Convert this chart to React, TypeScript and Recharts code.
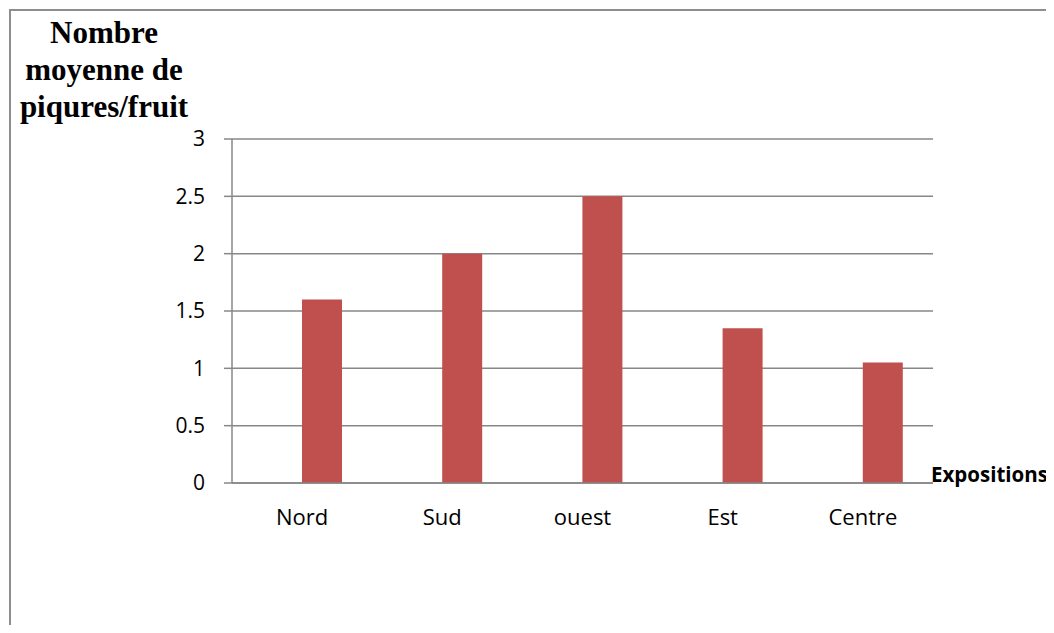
import React from 'react';
import { BarChart, Bar, XAxis, YAxis, CartesianGrid } from 'recharts';

// Mean number of stings per fruit, by orchard exposure
const categories = ['Nord', 'Sud', 'ouest', 'Est', 'Centre'];
const piqures = [1.6, 2.0, 2.5, 1.35, 1.05];
const yTicks = [0, 0.5, 1, 1.5, 2, 2.5, 3];
const titleLines = ['Nombre', 'moyenne de', 'piqures/fruit'];
const xAxisName = 'Expositions';

const data = categories.map((name, i) => ({ name, vide: null, piqures: piqures[i] }));

const GRID = '#878787';
const BAR = '#C0504D';
const SANS = '"Open Sans", "Noto Sans", sans-serif';

export default function App() {
  return (
    <div style={{ position: 'relative', width: 1054, height: 633, margin: -8, background: '#fff', overflow: 'hidden' }}>
      <div
        style={{
          position: 'absolute',
          left: 9,
          top: 9,
          width: 1200,
          height: 800,
          borderLeft: '2px solid #8e8e8e',
          borderTop: '2px solid #8e8e8e',
        }}
      />
      <BarChart
        width={1054}
        height={633}
        data={data}
        margin={{ top: 139, right: 121, bottom: 110, left: 172 }}
        barGap={0}
        barSize={40}
        style={{ position: 'absolute', left: 0, top: 0 }}
      >
        <CartesianGrid vertical={false} stroke={GRID} strokeWidth={1.5} />
        <XAxis
          dataKey="name"
          height={40}
          axisLine={{ stroke: GRID, strokeWidth: 1.5 }}
          tickLine={false}
          tickSize={0}
          tickMargin={26}
          tick={{ fill: '#000', fontSize: 22, fontFamily: SANS }}
        />
        <YAxis
          width={60}
          domain={[0, 3]}
          ticks={yTicks}
          interval={0}
          axisLine={{ stroke: GRID, strokeWidth: 1.5 }}
          tickLine={{ stroke: GRID, strokeWidth: 1.5 }}
          tickSize={8}
          tickMargin={19}
          tick={{ fill: '#000', fontSize: 21, fontFamily: SANS }}
        />
        <Bar dataKey="vide" fill={BAR} isAnimationActive={false} />
        <Bar dataKey="piqures" fill={BAR} isAnimationActive={false} />
      </BarChart>
      <svg width={1054} height={633} style={{ position: 'absolute', left: 0, top: 0, pointerEvents: 'none' }}>
        {titleLines.map((line, i) => (
          <text
            key={line}
            x={104}
            y={43 + i * 37}
            textAnchor="middle"
            fontFamily='"Liberation Serif", "Times New Roman", serif'
            fontWeight="bold"
            fontSize={31}
            fill="#000"
          >
            {line}
          </text>
        ))}
        <text x={931} y={482} fontFamily={SANS} fontWeight="bold" fontSize={20.5} fill="#000">
          {xAxisName}
        </text>
      </svg>
    </div>
  );
}
